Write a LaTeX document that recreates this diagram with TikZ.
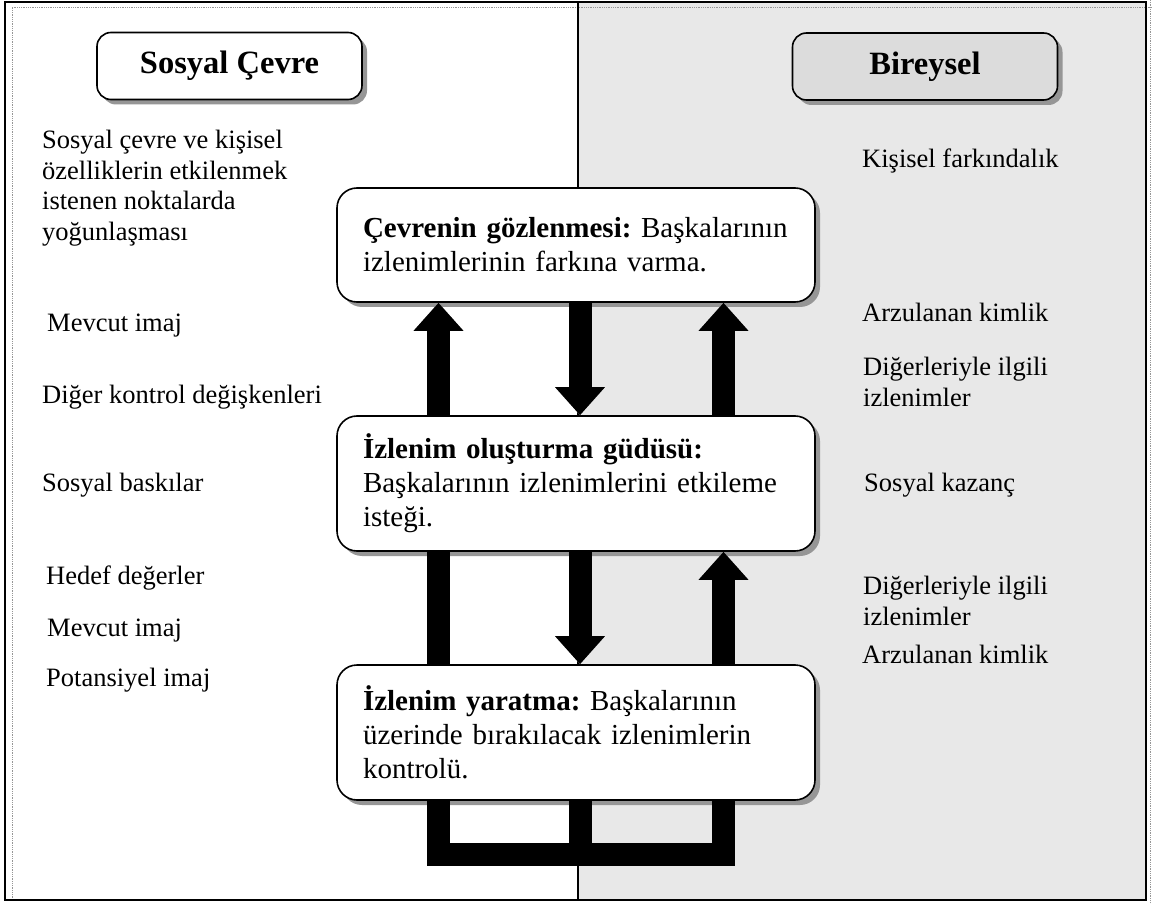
\documentclass[tikz,border=0pt]{standalone}
\usepackage{fontspec}
\setmainfont{Liberation Serif}
\usetikzlibrary{arrows.meta,shadows}
\definecolor{panelgray}{RGB}{232,232,232}
\definecolor{headgray}{RGB}{220,220,220}
\definecolor{shadegray}{RGB}{150,150,150}
\frenchspacing
\begin{document}
\begin{tikzpicture}[x=1pt,y=-1pt,
  bodyfont/.style={font=\fontsize{26.5}{30.5}\selectfont},
  label/.style={bodyfont,anchor=west,align=left,inner sep=0pt},
  headbox/.style={draw,line width=1.6pt,rounded corners=14pt,
    minimum width=265pt,minimum height=67pt,
    font=\bfseries\fontsize{32.5}{36}\selectfont,
    drop shadow={shadow xshift=5pt,shadow yshift=-5pt,opacity=1,fill=shadegray}},
  stagebox/.style={draw,fill=white,line width=1.6pt,rounded corners=20pt,
    minimum width=478pt,text width=426pt,align=left,
    font=\fontsize{29}{34}\selectfont,
    drop shadow={shadow xshift=5pt,shadow yshift=-5pt,opacity=1,fill=shadegray}},
  bar/.style={line width=23pt},
  blockarrow/.style={bar,-{Triangle[width=48pt,length=28pt]}}
]
\useasboundingbox (0,0) rectangle (1152,904);

% two panels
\fill[white] (5,2) rectangle (578,900);
\fill[panelgray] (578,2) rectangle (1146,900);
\draw[shadegray,densely dotted,line width=0.8pt] (12,900) -- (12,7) -- (1152,7);
\draw[shadegray,densely dotted,line width=0.8pt] (1150,0) -- (1150,904);
\draw[line width=2pt] (5,2) rectangle (1146,900);
\draw[line width=1.4pt] (578,2) -- (578,900);

% panel headings
\node[headbox,fill=white] (social) at (229.5,66) {Sosyal Çevre};
\node[headbox,fill=headgray] (individual) at (925,66.5) {Bireysel};

% left column
\node[label] (l1) at (42,188) {Sosyal çevre ve kişisel\\özelliklerin etkilenmek\\istenen noktalarda\\yoğunlaşması};
\node[label] (l2) at (47,326) {Mevcut imaj};
\node[label] (l3) at (42,397) {Diğer kontrol değişkenleri};
\node[label] (l4) at (42,485) {Sosyal baskılar};
\node[label] (l5) at (46,578) {Hedef değerler};
\node[label] (l6) at (47,631) {Mevcut imaj};
\node[label] (l7) at (46,680) {Potansiyel imaj};

% right column
\node[label] (r1) at (862,161) {Kişisel farkındalık};
\node[label] (r2) at (862,312) {Arzulanan kimlik};
\node[label] (r3) at (863,382) {Diğerleriyle ilgili\\izlenimler};
\node[label] (r4) at (864,485) {Sosyal kazanç};
\node[label] (r5) at (863,601) {Diğerleriyle ilgili\\izlenimler};
\node[label] (r6) at (862,654) {Arzulanan kimlik};

% the three stages
\node[stagebox,minimum height=114pt] (observe) at (576,245)
  {\textbf{Çevrenin gözlenmesi:} Başkalarının\\izlenimlerinin farkına varma.};
\node[stagebox,minimum height=135pt] (motive) at (576,483.5)
  {\textbf{İzlenim oluşturma güdüsü:}\\Başkalarının izlenimlerini etkileme\\isteği.};
\node[stagebox,minimum height=135pt] (create) at (576,732.5)
  {\textbf{İzlenim yaratma:} Başkalarının\\üzerinde bırakılacak izlenimlerin\\kontrolü.};

% arrow columns
\coordinate (cL) at (438.5,0);
\coordinate (cM) at (580,0);
\coordinate (cR) at (723.5,0);

% connector shadows
\begin{scope}[shift={(4,4)}]
  \draw[blockarrow,shadegray] (motive.north -| cL) -- (observe.south -| cL);
  \draw[blockarrow,shadegray] (observe.south -| cM) -- (motive.north -| cM);
  \draw[blockarrow,shadegray] (motive.north -| cR) -- (observe.south -| cR);
  \draw[bar,shadegray] (motive.south -| cL) -- (create.north -| cL);
  \draw[blockarrow,shadegray] (motive.south -| cM) -- (create.north -| cM);
  \draw[blockarrow,shadegray] (create.north -| cR) -- (motive.south -| cR);
  \draw[bar,shadegray,line join=miter] (create.south -| cL) -- ++(0,54) -| (create.south -| cR);
  \draw[bar,shadegray] (create.south -| cM) -- ++(0,54);
\end{scope}
% connectors
\draw[blockarrow] (motive.north -| cL) -- (observe.south -| cL);
\draw[blockarrow] (observe.south -| cM) -- (motive.north -| cM);
\draw[blockarrow] (motive.north -| cR) -- (observe.south -| cR);
\draw[bar] (motive.south -| cL) -- (create.north -| cL);
\draw[blockarrow] (motive.south -| cM) -- (create.north -| cM);
\draw[blockarrow] (create.north -| cR) -- (motive.south -| cR);
\draw[bar,line join=miter] (create.south -| cL) -- ++(0,54) -| (create.south -| cR);
\draw[bar] (create.south -| cM) -- ++(0,54);
\end{tikzpicture}
\end{document}
